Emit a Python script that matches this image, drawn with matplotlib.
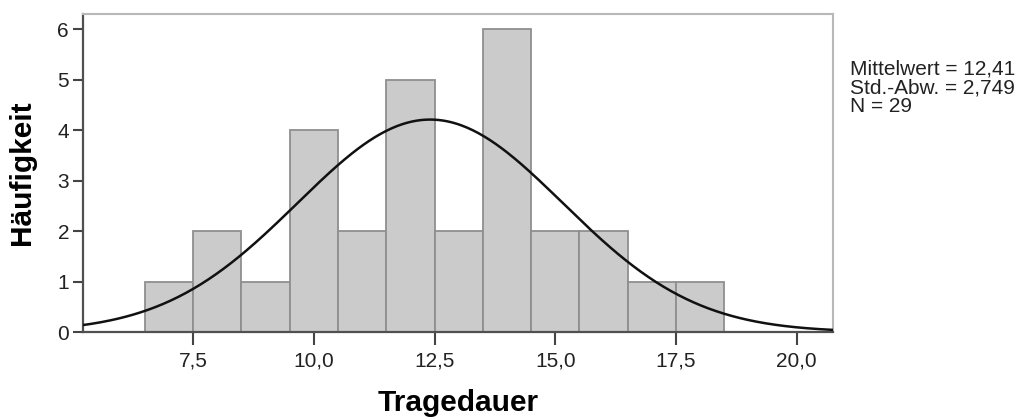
import numpy as np
import matplotlib
matplotlib.use("Agg")
import matplotlib.pyplot as plt

plt.rcParams['font.family'] = ['Liberation Sans', 'DejaVu Sans']

# Histogramm-Daten (Klassenmitte, Häufigkeit)
bin_centers = [7, 8, 9, 10, 11, 12, 13, 14, 15, 16, 17, 18]
counts = [1, 2, 1, 4, 2, 5, 2, 6, 2, 2, 1, 1]
mittelwert = 12.41
std_abw = 2.749
n = 29
x_ticks = [7.5, 10.0, 12.5, 15.0, 17.5, 20.0]
y_ticks = [0, 1, 2, 3, 4, 5, 6]


def de(v, nd):
    # deutsches Dezimalkomma
    return f"{v:.{nd}f}".replace('.', ',')


fig = plt.figure(figsize=(10.28, 4.19), dpi=100)
ax = fig.add_axes([0.0807, 0.2076, 0.7295, 0.759])

ax.bar(bin_centers, counts, width=1.0, color='#cbcbcb', edgecolor='#8f8f8f',
       linewidth=1.3, zorder=2)

# Normalverteilungskurve
xs = np.linspace(5.2, 20.8, 400)
ys = n * 1.0 / (std_abw * np.sqrt(2 * np.pi)) * np.exp(-0.5 * ((xs - mittelwert) / std_abw) ** 2)
ax.plot(xs, ys, color='#111111', linewidth=1.8, zorder=3)

ax.set_xlim(5.22, 20.75)
ax.set_ylim(0, 6.3)
ax.set_xticks(x_ticks)
ax.set_xticklabels([de(t, 1) for t in x_ticks])
ax.set_yticks(y_ticks)
ax.tick_params(axis='both', labelsize=15, color='#444444', labelcolor='#222222',
               width=1.5, direction='out')
ax.tick_params(axis='x', length=9, pad=5)
ax.tick_params(axis='y', length=7, pad=3)

for side in ['top', 'right']:
    ax.spines[side].set_color('#b8b8b8')
    ax.spines[side].set_linewidth(1.5)
for side in ['left', 'bottom']:
    ax.spines[side].set_color('#505050')
    ax.spines[side].set_linewidth(1.6)

ax.set_xlabel('Tragedauer', fontsize=21.5, fontweight='bold', labelpad=13)
ax.set_ylabel('Häufigkeit', fontsize=21.5, fontweight='bold', labelpad=15)

fig.text(0.827, 0.858, f"Mittelwert = {de(mittelwert, 2)}\n"
         f"Std.-Abw. = {de(std_abw, 3)}\nN = {n}",
         fontsize=15, va='top', ha='left', color='#222222', linespacing=1.0)

fig.savefig('out.png', dpi=100)
